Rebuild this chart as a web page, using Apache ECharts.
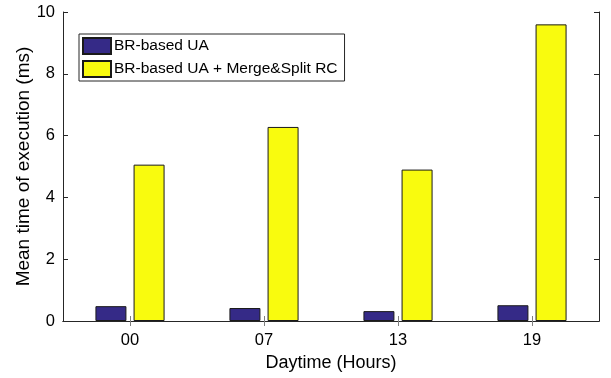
<!DOCTYPE html>
<html>
<head>
<meta charset="utf-8">
<script src="https://cdn.jsdelivr.net/npm/echarts@6/dist/echarts.min.js"></script>
<style>
  html, body { margin: 0; padding: 0; background: #fff; }
  #chart { width: 611px; height: 378px; }
</style>
</head>
<body>
<div id="chart"></div>
<script>
// Hours of the day at which execution time was measured
const hours = ['00', '07', '13', '19'];
// Mean execution time (ms) per method
const brBasedUA = [0.48, 0.42, 0.32, 0.51];
const brBasedUAMergeSplit = [5.06, 6.28, 4.90, 9.60];
const yTicks = [0, 2, 4, 6, 8, 10];

const FONT = 'Liberation Sans, Arial, Helvetica, sans-serif';
const AXIS = '#262626';

const chart = echarts.init(document.getElementById('chart'), null, { renderer: 'canvas' });

const yMin = yTicks[0], yMax = yTicks[yTicks.length - 1], yStep = yTicks[1] - yTicks[0];

// Boxed axes: ticks point inward on all four sides
const tickIn = (color) => ({ show: true, inside: true, length: 5, lineStyle: { color: color } });

chart.setOption({
  animation: false,
  backgroundColor: '#fff',
  textStyle: { fontFamily: FONT },
  grid: { left: 63, right: 12, top: 12, bottom: 57, containLabel: false },
  legend: {
    orient: 'vertical',
    left: 79,
    top: 34,
    icon: 'rect',
    itemWidth: 28,
    itemHeight: 16,
    itemGap: 5,
    padding: [3, 7, 3, 3],
    borderColor: AXIS,
    borderWidth: 1,
    backgroundColor: '#fff',
    textStyle: { fontFamily: FONT, fontSize: 15.5, color: '#000', padding: [0, 0, 0, -2] },
    data: ['BR-based UA', 'BR-based UA + Merge&Split RC']
  },
  xAxis: [
    {
      type: 'category',
      data: hours,
      position: 'bottom',
      name: 'Daytime (Hours)',
      nameLocation: 'middle',
      nameGap: 33,
      nameTextStyle: { fontFamily: FONT, fontSize: 18, color: '#000' },
      axisLine: { show: true, lineStyle: { color: AXIS, width: 1 } },
      axisTick: Object.assign(tickIn('#7f7f7f'), { alignWithLabel: true }),
      axisLabel: { fontFamily: FONT, fontSize: 16.5, color: '#000', margin: 11 },
      splitLine: { show: false }
    },
    {
      type: 'category',
      data: hours,
      position: 'top',
      axisLine: { show: true, lineStyle: { color: AXIS, width: 1 } },
      axisTick: Object.assign(tickIn('#7f7f7f'), { alignWithLabel: true }),
      axisLabel: { show: false },
      splitLine: { show: false }
    }
  ],
  yAxis: [
    {
      type: 'value',
      min: yMin,
      max: yMax,
      interval: yStep,
      position: 'left',
      name: 'Mean time of execution (ms)',
      nameLocation: 'middle',
      nameGap: 30,
      nameMoveOverlap: false,
      nameTextStyle: { fontFamily: FONT, fontSize: 19, color: '#000' },
      axisLine: { show: true, lineStyle: { color: AXIS, width: 1 } },
      axisTick: tickIn(AXIS),
      axisLabel: { fontFamily: FONT, fontSize: 16.5, color: '#000', margin: 8 },
      splitLine: { show: false }
    },
    {
      type: 'value',
      min: yMin,
      max: yMax,
      interval: yStep,
      position: 'right',
      axisLine: { show: true, lineStyle: { color: AXIS, width: 1 } },
      axisTick: tickIn(AXIS),
      axisLabel: { show: false },
      splitLine: { show: false }
    }
  ],
  series: [
    {
      name: 'BR-based UA',
      type: 'bar',
      xAxisIndex: 0,
      yAxisIndex: 0,
      data: brBasedUA,
      barWidth: 31,
      barGap: '23%',
      itemStyle: { color: '#352A87', borderColor: '#1a1a1a', borderWidth: 1 }
    },
    {
      name: 'BR-based UA + Merge&Split RC',
      type: 'bar',
      xAxisIndex: 0,
      yAxisIndex: 0,
      data: brBasedUAMergeSplit,
      barWidth: 31,
      barGap: '23%',
      itemStyle: { color: '#F9FB0E', borderColor: '#1a1a1a', borderWidth: 1 }
    }
  ]
});
</script>
</body>
</html>
